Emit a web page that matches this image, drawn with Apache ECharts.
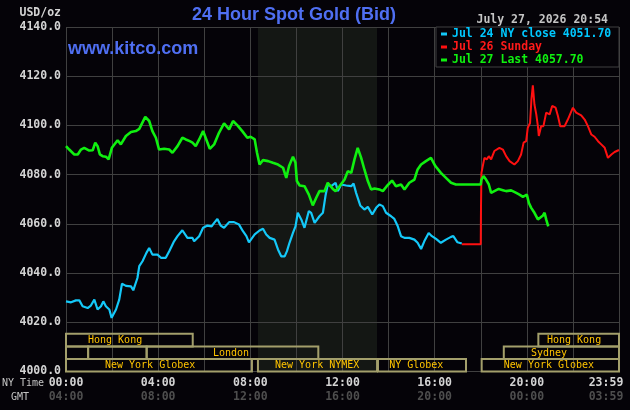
<!DOCTYPE html>
<html>
<head>
<meta charset="utf-8">
<title>24 Hour Spot Gold (Bid)</title>
<script src="https://cdn.jsdelivr.net/npm/echarts@6/dist/echarts.min.js"></script>
<style>
html, body { margin: 0; padding: 0; background: #050308; }
#main { width: 630px; height: 410px; }
</style>
</head>
<body>
<div id="main"></div>
<script>
// hours since 00:00 NY time, price in USD/oz
var jul24Close = [
  [0.00, 4028.5], [0.22, 4028.1], [0.43, 4028.9], [0.58, 4028.9], [0.72, 4026.5], [0.94, 4025.8],
  [1.08, 4026.8], [1.23, 4029.2], [1.37, 4025.2], [1.52, 4026.5], [1.62, 4028.5], [1.73, 4026.5],
  [1.88, 4025.2], [1.98, 4021.8], [2.17, 4025.2], [2.31, 4029.2], [2.43, 4035.7], [2.60, 4034.8],
  [2.82, 4034.6], [2.92, 4033.0], [3.10, 4038.0], [3.18, 4042.8], [3.32, 4044.8], [3.49, 4048.2],
  [3.61, 4050.2], [3.75, 4047.5], [3.97, 4047.5], [4.12, 4046.2], [4.33, 4046.2], [4.48, 4048.9],
  [4.69, 4052.9], [4.84, 4055.0], [5.05, 4057.4], [5.27, 4054.3], [5.49, 4054.3], [5.56, 4052.9],
  [5.78, 4055.0], [5.95, 4058.4], [6.14, 4059.3], [6.32, 4059.0], [6.43, 4060.4], [6.57, 4062.0],
  [6.71, 4059.3], [6.86, 4058.4], [7.08, 4060.7], [7.29, 4060.7], [7.51, 4059.7], [7.68, 4057.0],
  [7.83, 4055.0], [7.94, 4052.5], [8.19, 4055.7], [8.40, 4057.3], [8.55, 4058.0], [8.69, 4055.7],
  [8.84, 4054.3], [9.05, 4053.6], [9.20, 4049.6], [9.34, 4046.8], [9.49, 4046.8], [9.59, 4048.9],
  [9.70, 4052.3], [9.85, 4056.3], [9.96, 4059.0], [10.06, 4064.5], [10.21, 4061.8], [10.35, 4058.4],
  [10.54, 4065.2], [10.64, 4064.5], [10.79, 4060.4], [11.00, 4063.1], [11.15, 4064.5], [11.26, 4071.3],
  [11.36, 4076.0], [11.51, 4075.3], [11.70, 4076.7], [11.80, 4073.3], [11.94, 4076.0], [12.16, 4075.6],
  [12.38, 4075.3], [12.48, 4076.4], [12.59, 4072.6], [12.77, 4067.5], [12.95, 4065.8], [13.10, 4066.9],
  [13.29, 4063.8], [13.46, 4066.5], [13.60, 4067.9], [13.75, 4067.2], [13.89, 4064.5], [14.11, 4063.1],
  [14.25, 4062.0], [14.40, 4059.0], [14.54, 4055.0], [14.69, 4054.3], [14.90, 4054.3], [15.12, 4053.6],
  [15.26, 4052.3], [15.41, 4049.8], [15.55, 4052.9], [15.74, 4056.3], [15.88, 4055.0], [16.06, 4053.9],
  [16.27, 4052.3], [16.49, 4053.6], [16.71, 4054.7], [16.81, 4055.0], [16.99, 4052.5], [17.18, 4052.0]
];

var jul26Sunday = [
  [17.18, 4051.7], [18.00, 4051.7], [18.01, 4066.0], [18.03, 4080.7], [18.16, 4086.8], [18.26, 4086.2],
  [18.35, 4087.5], [18.45, 4086.2], [18.59, 4089.6], [18.81, 4090.9], [18.96, 4090.2], [19.10, 4087.5],
  [19.25, 4085.5], [19.46, 4084.1], [19.61, 4085.5], [19.75, 4088.2], [19.86, 4093.0], [19.97, 4093.6],
  [20.04, 4099.0], [20.14, 4101.0], [20.20, 4110.6], [20.26, 4116.3], [20.33, 4108.5], [20.41, 4104.5],
  [20.48, 4099.7], [20.52, 4095.7], [20.62, 4099.7], [20.72, 4099.7], [20.84, 4105.2], [20.99, 4104.5],
  [21.10, 4107.9], [21.25, 4107.2], [21.35, 4103.8], [21.45, 4099.7], [21.64, 4099.7], [21.78, 4102.4],
  [22.00, 4107.2], [22.14, 4105.2], [22.36, 4104.1], [22.51, 4102.4], [22.65, 4099.7], [22.80, 4096.3],
  [22.94, 4095.4], [23.09, 4093.6], [23.23, 4092.3], [23.38, 4090.9], [23.52, 4086.8], [23.67, 4088.2],
  [23.81, 4089.2], [24.00, 4090.0]
];

var jul27Last = [
  [0.00, 4091.6], [0.14, 4090.2], [0.36, 4088.2], [0.51, 4088.2], [0.65, 4090.2], [0.79, 4090.9],
  [1.01, 4089.8], [1.16, 4089.9], [1.27, 4093.0], [1.37, 4091.6], [1.47, 4088.2], [1.59, 4087.5],
  [1.73, 4087.3], [1.85, 4086.2], [1.99, 4090.9], [2.24, 4094.0], [2.38, 4092.3], [2.60, 4095.7],
  [2.82, 4097.3], [3.03, 4097.7], [3.18, 4098.6], [3.44, 4103.5], [3.61, 4101.8], [3.75, 4097.7],
  [3.90, 4095.0], [4.04, 4090.2], [4.26, 4090.5], [4.48, 4090.2], [4.62, 4088.9], [4.84, 4091.6],
  [5.05, 4095.0], [5.20, 4094.3], [5.37, 4093.6], [5.49, 4093.0], [5.63, 4091.6], [5.78, 4094.3],
  [5.95, 4097.7], [6.06, 4095.0], [6.24, 4090.5], [6.43, 4092.3], [6.64, 4097.0], [6.86, 4100.8],
  [7.08, 4098.4], [7.25, 4101.8], [7.44, 4100.0], [7.65, 4097.7], [7.87, 4095.0], [8.01, 4095.4],
  [8.09, 4095.7], [8.19, 4094.3], [8.29, 4088.9], [8.40, 4084.1], [8.55, 4085.9], [8.77, 4085.5],
  [8.98, 4084.8], [9.20, 4084.1], [9.42, 4082.8], [9.56, 4078.7], [9.68, 4083.5], [9.85, 4087.3],
  [9.96, 4084.8], [10.02, 4077.4], [10.14, 4075.6], [10.35, 4075.3], [10.54, 4071.9], [10.71, 4067.5],
  [10.86, 4070.6], [11.00, 4073.3], [11.22, 4073.3], [11.36, 4076.7], [11.58, 4074.2], [11.70, 4073.3],
  [11.87, 4075.3], [12.09, 4078.0], [12.23, 4081.4], [12.38, 4080.7], [12.52, 4086.2], [12.66, 4090.9],
  [12.81, 4086.8], [12.95, 4082.1], [13.10, 4077.4], [13.24, 4074.0], [13.39, 4074.4], [13.60, 4074.0],
  [13.75, 4073.3], [13.92, 4075.3], [14.15, 4077.6], [14.32, 4075.3], [14.54, 4076.0], [14.69, 4074.0],
  [14.90, 4076.7], [15.12, 4078.0], [15.26, 4082.1], [15.41, 4084.1], [15.62, 4085.5], [15.84, 4086.8],
  [16.03, 4083.5], [16.27, 4080.7], [16.49, 4078.7], [16.71, 4076.7], [16.92, 4076.0], [18.00, 4076.0],
  [18.03, 4078.0], [18.12, 4079.4], [18.23, 4078.0], [18.35, 4076.0], [18.45, 4072.6], [18.59, 4073.3],
  [18.78, 4074.2], [18.96, 4073.7], [19.10, 4073.3], [19.32, 4073.6], [19.54, 4072.6], [19.68, 4071.9],
  [19.83, 4071.0], [20.00, 4071.9], [20.09, 4068.5], [20.19, 4066.5], [20.33, 4064.5], [20.48, 4061.8],
  [20.55, 4061.1], [20.70, 4063.4], [20.77, 4064.5], [20.84, 4061.8], [20.93, 4059.0]
];

var seriesNames = ['Jul 24 NY close 4051.70', 'Jul 26 Sunday', 'Jul 27 Last 4057.70'];
var nyTimeLabels = ['00:00', '', '04:00', '', '08:00', '', '12:00', '', '16:00', '', '20:00', '', '23:59'];
var gmtLabels = ['04:00', '', '08:00', '', '12:00', '', '16:00', '', '20:00', '', '00:00', '', '03:59'];

// NYMEX pit hours (shaded)
var pitHours = [[8.33, 13.5]];

// [start hour, end hour, row, name, label hour]
var sessions = [
  [0, 5.5, 2, 'Hong Kong', 2.13],
  [20.5, 24, 2, 'Hong Kong', 22.05],
  [0, 0.96, 1, '', 0],
  [0.96, 3.5, 1, '', 0],
  [3.5, 10.95, 1, 'London', 7.16],
  [19, 24, 1, 'Sydney', 20.96],
  [0, 8.07, 0, 'New York Globex', 3.65],
  [8.33, 13.5, 0, 'New York NYMEX', 10.9],
  [13.54, 17.36, 0, 'NY Globex', 15.2],
  [18.04, 24, 0, 'New York Globex', 20.96]
];

var mono = '"DejaVu Sans Mono", "Liberation Mono", monospace';
var sans = '"Liberation Sans", Arial, sans-serif';
var blue = '#14c8f8', red = '#ff1010', green = '#10f010';
var gridColor = '#404040';

var myChart = echarts.init(document.getElementById('main'));

var rowH = 5.1;

var option = {
  backgroundColor: '#050308',
  animation: false,
  grid: { left: 66, right: 11, top: 27, bottom: 38.5, containLabel: false, outerBoundsMode: 'none' },
  xAxis: {
    type: 'value', min: 0, max: 24, interval: 2, z: 2,
    axisLine: { show: false }, axisTick: { show: false },
    splitLine: { show: true, lineStyle: { color: gridColor, width: 1 } },
    axisLabel: {
      showMinLabel: true, showMaxLabel: true, margin: 5,
      formatter: function (v) {
        var i = Math.round(v / 2);
        if (!nyTimeLabels[i]) return '';
        var t = v === 24 ? 'l' : '';
        return '{a' + t + '|' + nyTimeLabels[i] + '}\n{b' + t + '|' + gmtLabels[i] + '}';
      },
      rich: {
        a: { color: '#d4d4d4', fontFamily: mono, fontWeight: 'bold', fontSize: 11.5, lineHeight: 14 },
        b: { color: '#4e4e4e', fontFamily: mono, fontWeight: 'bold', fontSize: 11.5, lineHeight: 14 },
        al: { color: '#d4d4d4', fontFamily: mono, fontWeight: 'bold', fontSize: 11.5, lineHeight: 14, padding: [0, 26, 0, 0] },
        bl: { color: '#4e4e4e', fontFamily: mono, fontWeight: 'bold', fontSize: 11.5, lineHeight: 14, padding: [0, 26, 0, 0] }
      }
    }
  },
  yAxis: {
    type: 'value', min: 4000, max: 4140, interval: 20, z: 2,
    axisLine: { show: false }, axisTick: { show: false },
    splitLine: { show: true, lineStyle: { color: gridColor, width: 1 } },
    axisLabel: {
      margin: 5, color: '#d4d4d4', fontFamily: mono, fontWeight: 'bold', fontSize: 11.5,
      showMinLabel: true, showMaxLabel: true,
      formatter: function (v) { return v.toFixed(1); }
    }
  },
  legend: {
    orient: 'vertical', left: 441, top: 28, padding: 0, z: 110,
    itemWidth: 6, itemHeight: 3, itemGap: 1, icon: 'rect', selectedMode: false,
    textStyle: { fontFamily: mono, fontWeight: 'bold', fontSize: 11.5, lineHeight: 12 },
    data: [
      { name: seriesNames[0], textStyle: { color: '#00c8ff' } },
      { name: seriesNames[1], textStyle: { color: '#ff1a1a' } },
      { name: seriesNames[2], textStyle: { color: '#10f010' } }
    ]
  },
  graphic: [
    { type: 'rect', z: 100, shape: { x: 436, y: 27, width: 183, height: 40 },
      style: { fill: '#050308', stroke: gridColor, lineWidth: 1 } },
    { type: 'text', x: 294, y: 15, z: 100,
      style: { text: '24 Hour Spot Gold (Bid)', fill: '#4f6ff2', font: 'bold 18px ' + sans, align: 'center', verticalAlign: 'middle' } },
    { type: 'text', x: 68, y: 49, z: 100,
      style: { text: 'www.kitco.com', fill: '#4f6ff2', font: 'bold 18px ' + sans, align: 'left', verticalAlign: 'middle' } },
    { type: 'text', x: 608, y: 20, z: 100,
      style: { text: 'July 27, 2026 20:54', fill: '#c4c4c4', font: 'bold 11.5px ' + mono, align: 'right', verticalAlign: 'middle' } },
    { type: 'text', x: 61, y: 13, z: 100,
      style: { text: 'USD/oz', fill: '#d4d4d4', font: 'bold 11.5px ' + mono, align: 'right', verticalAlign: 'middle' } },
    { type: 'text', x: 2, y: 383, z: 100,
      style: { text: 'NY Time', fill: '#c4c4c4', font: '10px ' + mono, align: 'left', verticalAlign: 'middle' } },
    { type: 'text', x: 11, y: 397, z: 100,
      style: { text: 'GMT', fill: '#c4c4c4', font: '10px ' + mono, align: 'left', verticalAlign: 'middle' } }
  ],
  series: [
    {
      type: 'custom', z: 1, silent: true,
      data: pitHours,
      encode: { x: [0, 1] },
      renderItem: function (params, api) {
        var p0 = api.coord([api.value(0), 4140]);
        var p1 = api.coord([api.value(1), 4000]);
        return { type: 'rect', shape: { x: p0[0], y: p0[1], width: p1[0] - p0[0], height: p1[1] - p0[1] },
          style: { fill: '#141714' } };
      }
    },
    {
      name: seriesNames[0], type: 'line', z: 3, data: jul24Close, showSymbol: false,
      color: blue, lineStyle: { width: 2.2, color: blue }
    },
    {
      name: seriesNames[1], type: 'line', z: 3, data: jul26Sunday, showSymbol: false,
      color: red, lineStyle: { width: 2, color: red }
    },
    {
      name: seriesNames[2], type: 'line', z: 3, data: jul27Last, showSymbol: false,
      color: green, lineStyle: { width: 2.6, color: green }
    },
    {
      type: 'custom', z: 4, silent: true,
      data: sessions.map(function (s) { return [s[0], s[1], s[2]]; }),
      encode: { x: [0, 1] },
      renderItem: function (params, api) {
        var s = sessions[params.dataIndex];
        var p0 = api.coord([s[0], 4000 + (s[2] + 1) * rowH]);
        var p1 = api.coord([s[1], 4000 + s[2] * rowH]);
        var children = [{
          type: 'rect',
          shape: { x: p0[0], y: p0[1], width: p1[0] - p0[0], height: p1[1] - p0[1] },
          style: { fill: 'none', stroke: '#a39f6b', lineWidth: 2 }
        }];
        if (s[3]) {
          children.push({
            type: 'text',
            x: api.coord([s[4], 4000])[0], y: (p0[1] + p1[1]) / 2 + 0.5,
            style: { text: s[3], fill: '#ffc400', font: '10px ' + mono, align: 'center', verticalAlign: 'middle' }
          });
        }
        return { type: 'group', children: children };
      }
    }
  ]
};

myChart.setOption(option);
</script>
</body>
</html>
